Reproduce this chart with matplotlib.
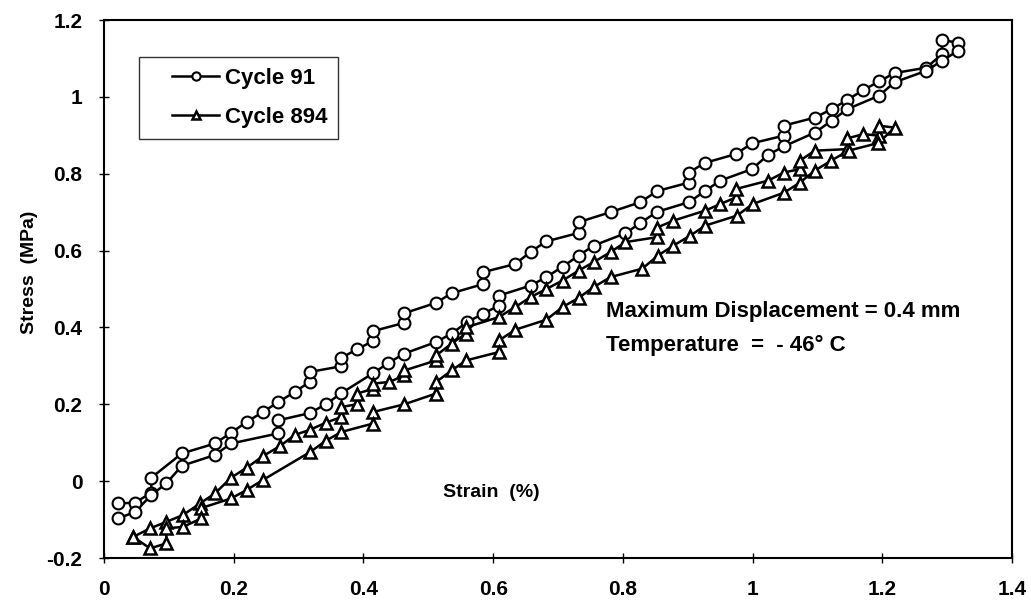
import matplotlib
matplotlib.use("Agg")
import matplotlib.pyplot as plt
from matplotlib.ticker import FuncFormatter
from matplotlib.legend_handler import HandlerLine2D
from matplotlib.lines import Line2D

plt.rcParams['font.family'] = ['Liberation Sans', 'DejaVu Sans']
plt.rcParams['font.weight'] = 'bold'

# Cycle 91 (circles) - closed hysteresis loop
c91_strain = [0.022, 0.048, 0.073, 0.073, 0.12, 0.171, 0.196, 0.22, 0.245, 0.269, 0.294, 0.317, 0.317,
              0.366, 0.366, 0.39, 0.414, 0.414, 0.463, 0.463, 0.512, 0.536, 0.585, 0.585, 0.634, 0.658,
              0.682, 0.732, 0.732, 0.781, 0.827, 0.853, 0.902, 0.902, 0.926, 0.974, 0.999, 1.048, 1.048,
              1.096, 1.122, 1.146, 1.171, 1.195, 1.219, 1.268, 1.292, 1.292, 1.317,
              1.317, 1.292, 1.268, 1.219, 1.195, 1.146, 1.122, 1.096, 1.048, 1.024, 0.999, 0.95, 0.926,
              0.902, 0.853, 0.827, 0.804, 0.755, 0.732, 0.707, 0.682, 0.658, 0.609, 0.609, 0.585, 0.56,
              0.536, 0.512, 0.463, 0.438, 0.415, 0.366, 0.342, 0.317, 0.268, 0.268, 0.196, 0.171, 0.12,
              0.096, 0.073, 0.048, 0.022]
c91_stress = [-0.058, -0.056, -0.03, 0.009, 0.072, 0.098, 0.126, 0.154, 0.18, 0.206, 0.232, 0.258, 0.284,
              0.299, 0.321, 0.343, 0.364, 0.39, 0.412, 0.437, 0.464, 0.489, 0.513, 0.544, 0.565, 0.597,
              0.624, 0.646, 0.674, 0.70, 0.726, 0.755, 0.777, 0.803, 0.828, 0.851, 0.879, 0.899, 0.925,
              0.946, 0.968, 0.992, 1.018, 1.04, 1.062, 1.076, 1.111, 1.148, 1.141,
              1.12, 1.094, 1.068, 1.038, 1.003, 0.968, 0.938, 0.907, 0.871, 0.849, 0.812, 0.782, 0.754,
              0.726, 0.701, 0.672, 0.645, 0.613, 0.587, 0.558, 0.531, 0.509, 0.483, 0.457, 0.436, 0.414,
              0.384, 0.362, 0.332, 0.307, 0.281, 0.229, 0.2, 0.177, 0.158, 0.124, 0.098, 0.068, 0.04,
              -0.006, -0.036, -0.08, -0.097]

# Cycle 894 (triangles) - closed hysteresis loop
c894_strain = [0.045, 0.071, 0.096, 0.122, 0.148, 0.171, 0.196, 0.22, 0.245, 0.272, 0.294, 0.318, 0.342,
               0.366, 0.366, 0.39, 0.39, 0.415, 0.415, 0.44, 0.463, 0.463, 0.512, 0.512, 0.536, 0.558,
               0.558, 0.609, 0.634, 0.658, 0.682, 0.707, 0.732, 0.755, 0.781, 0.804, 0.853, 0.853, 0.878,
               0.927, 0.95, 0.974, 0.974, 1.024, 1.048, 1.073, 1.073, 1.096, 1.146, 1.146, 1.171, 1.195,
               1.195, 1.219,
               1.194, 1.148, 1.121, 1.096, 1.073, 1.049, 1.0, 0.976, 0.927, 0.904, 0.878, 0.854, 0.83,
               0.781, 0.755, 0.732, 0.707, 0.682, 0.634, 0.609, 0.609, 0.558, 0.536, 0.512, 0.512, 0.463,
               0.415, 0.415, 0.366, 0.342, 0.318, 0.245, 0.22, 0.196, 0.15, 0.15, 0.122, 0.096, 0.096,
               0.071, 0.045]
c894_stress = [-0.145, -0.123, -0.106, -0.088, -0.058, -0.032, 0.009, 0.035, 0.065, 0.092, 0.12, 0.134, 0.152,
               0.167, 0.193, 0.2, 0.228, 0.24, 0.254, 0.258, 0.275, 0.288, 0.314, 0.327, 0.358, 0.384,
               0.40, 0.427, 0.453, 0.479, 0.50, 0.522, 0.548, 0.57, 0.596, 0.622, 0.635, 0.66, 0.678,
               0.704, 0.721, 0.738, 0.76, 0.782, 0.803, 0.812, 0.834, 0.86, 0.864, 0.892, 0.903, 0.899,
               0.925, 0.92,
               0.88, 0.86, 0.834, 0.808, 0.777, 0.751, 0.721, 0.691, 0.665, 0.639, 0.613, 0.587, 0.553,
               0.531, 0.505, 0.477, 0.453, 0.42, 0.394, 0.366, 0.336, 0.314, 0.288, 0.258, 0.228, 0.2,
               0.18, 0.15, 0.128, 0.105, 0.076, 0.003, -0.023, -0.045, -0.07, -0.097, -0.119, -0.123, -0.162,
               -0.175, -0.145]

x_ticks = [0, 0.2, 0.4, 0.6, 0.8, 1.0, 1.2, 1.4]
y_ticks = [-0.2, 0, 0.2, 0.4, 0.6, 0.8, 1.0, 1.2]

fig = plt.figure(figsize=(10.31, 6.03), dpi=100)
ax = fig.add_axes([104/1031, 1 - 558/603, 908/1031, 538/603])

l1, = ax.plot(c91_strain, c91_stress, color='black', lw=1.8, marker='o', ms=8.5,
              mfc='white', mec='black', mew=1.5, label='Cycle 91')
l2, = ax.plot(c894_strain, c894_stress, color='black', lw=1.8, marker='^', ms=8.5,
              mfc='white', mec='black', mew=1.8, label='Cycle 894')

ax.set_xlim(0, 1.4)
ax.set_ylim(-0.2, 1.2)
ax.set_xticks(x_ticks)
ax.set_yticks(y_ticks)
fmt = FuncFormatter(lambda v, p: ('%g' % round(v, 2)))
ax.xaxis.set_major_formatter(fmt)
ax.yaxis.set_major_formatter(fmt)
ax.tick_params(direction='inout', length=7, width=1, labelsize=15, pad=12)
for lab in ax.get_xticklabels() + ax.get_yticklabels():
    lab.set_fontweight('bold')
for s in ax.spines.values():
    s.set_linewidth(1.5)

ax.text(0.597, -0.03, 'Strain  (%)', fontsize=14, fontweight='bold', ha='center', va='center')
fig.text(30/1031, 1 - 272/603, 'Stress  (MPa)', fontsize=14, fontweight='bold', rotation=90,
         ha='center', va='center')

ax.text((607-104)/650, (481-311)/385, 'Maximum Displacement = 0.4 mm',
        fontsize=16, fontweight='bold', ha='left', va='center')
ax.text((607-104)/650, (481-345)/385, 'Temperature  =  - 46° C',
        fontsize=16, fontweight='bold', ha='left', va='center')

leg = ax.legend(handles=[l1, l2], loc='upper left', bbox_to_anchor=((139-104)/908, (558-57)/538),
                frameon=True, fancybox=False, edgecolor='black', fontsize=16,
                handlelength=3.1, markerscale=0.7, borderpad=0.5, labelspacing=0.8,
                handletextpad=0.25, borderaxespad=0,
                handler_map={Line2D: HandlerLine2D(xpad=1.0)})
leg.get_frame().set_linewidth(1.0)
for t in leg.get_texts():
    t.set_fontweight('bold')

fig.savefig('out.png', dpi=100)
